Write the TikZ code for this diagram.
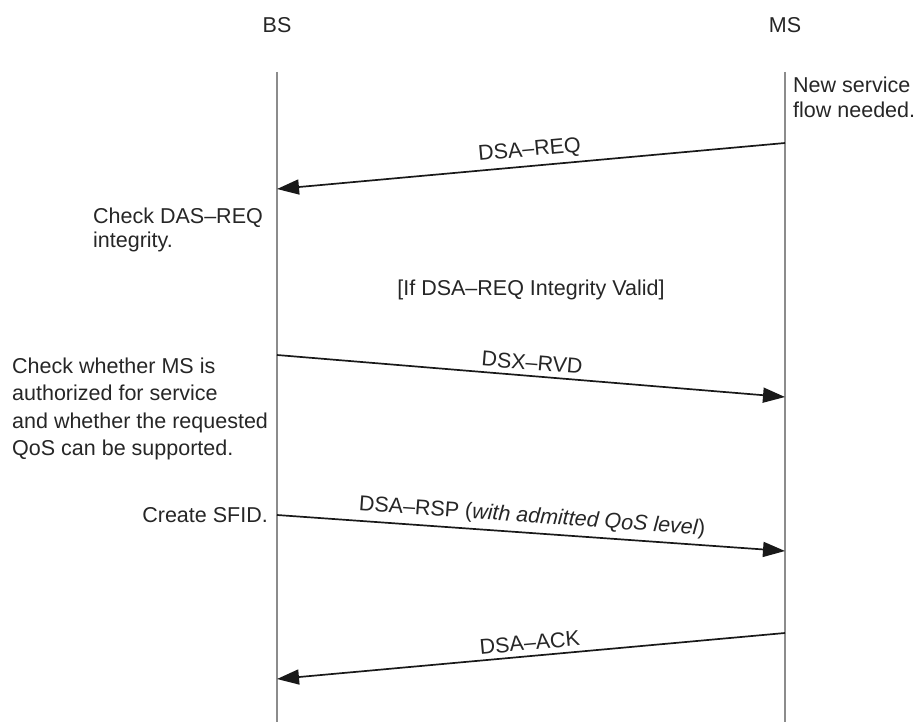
\documentclass[tikz,border=0pt]{standalone}
\usepackage{fontspec}
\setmainfont{Liberation Sans}
\usetikzlibrary{arrows.meta}
\begin{document}
\begin{tikzpicture}[x=1pt,y=-1pt,
  txt/.style={font=\fontsize{21.5}{25}\selectfont, inner sep=0pt, text=black!85},
  life/.style={draw=black!45, line width=2.6pt},
  msg/.style={draw=black!90, line width=1.7pt, -{Triangle[length=22pt,width=15pt]}},
  lbl/.style={txt, above=5pt, sloped, midway},
]
\useasboundingbox (0,0) rectangle (920,722);

% entities and lifelines
\node[txt] (bs) at (277,25) {BS};
\node[txt] (ms) at (785,25) {MS};
\coordinate (bstop) at (277,72);
\coordinate (bsbot) at (277,722);
\coordinate (mstop) at (785,72);
\coordinate (msbot) at (785,722);
\draw[life] (bstop) -- (bsbot);
\draw[life] (mstop) -- (msbot);

% message end points
\coordinate (reqS) at (785,143);
\coordinate (reqE) at (277,189);
\coordinate (rvdS) at (277,355);
\coordinate (rvdE) at (785,397);
\coordinate (rspS) at (277,515);
\coordinate (rspE) at (785,551);
\coordinate (ackS) at (785,633);
\coordinate (ackE) at (277,679);

% messages
\draw[msg] (reqS) -- node[lbl] (reqL) {DSA–REQ} (reqE);
\draw[msg] (rvdS) -- node[lbl] (rvdL) {DSX–RVD} (rvdE);
\draw[msg] (rspS) -- node[lbl] (rspL) {DSA–RSP (\textit{with admitted QoS level})} (rspE);
\draw[msg] (ackS) -- node[lbl] (ackL) {DSA–ACK} (ackE);

% notes
\node[txt, anchor=west, align=left] (newsf) at (793,97) {New service\\flow needed.};
\node[txt, anchor=west, align=left, font=\fontsize{21.5}{24}\selectfont] (chk) at (93,230) {Check DAS–REQ\\integrity.};
\node[txt] (cond) at (531,290) {[If DSA–REQ Integrity Valid]};
\node[txt, anchor=west, align=left, font=\fontsize{21.5}{27.3}\selectfont] (auth) at (12,409)
  {Check whether MS is\\authorized for service\\and whether the requested\\QoS can be supported.};
\node[txt, anchor=east] (sfid) at (268,515) {Create SFID.};
\end{tikzpicture}
\end{document}
